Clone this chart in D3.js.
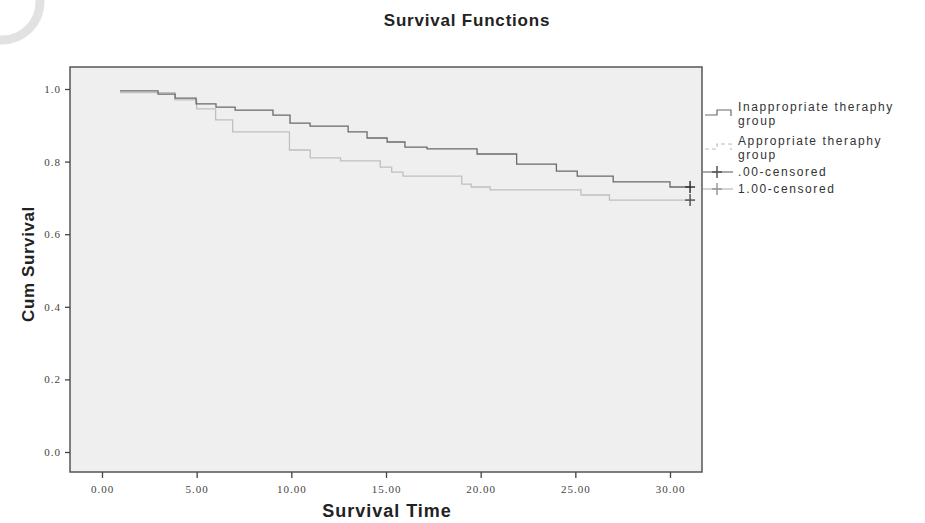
<!DOCTYPE html>
<html>
<head>
<meta charset="utf-8">
<script src="https://cdn.jsdelivr.net/npm/d3@7"></script>
<style>
  body { margin: 0; background: #fff; }
  svg { display: block; }
</style>
</head>
<body>
<div id="chart"></div>
<script>
// Kaplan-Meier steps
const inapTimes = [0.95, 2.96, 3.86, 4.97, 6.02, 7.03, 9.03, 9.93, 10.99, 13.0, 14.0, 15.06, 16.0, 17.17, 19.81, 21.9, 24.0, 25.1, 27.0, 30.0, 31.06]
const inapSurv  = [0.995, 0.986, 0.975, 0.959, 0.950, 0.942, 0.928, 0.906, 0.898, 0.882, 0.865, 0.854, 0.840, 0.835, 0.821, 0.793, 0.774, 0.760, 0.744, 0.730, 0.730]

const apTimes = [0.95, 3.86, 5.0, 6.0, 6.9, 9.9, 11.0, 12.6, 14.7, 15.3, 15.9, 19.0, 19.5, 20.5, 25.3, 26.8, 31.06]
const apSurv  = [0.99, 0.97, 0.945, 0.915, 0.882, 0.832, 0.810, 0.802, 0.785, 0.771, 0.760, 0.738, 0.730, 0.722, 0.708, 0.694, 0.694]

// censored cases (time, survival)
const censInap = [[31.06, 0.730]]
const censAp = [[31.06, 0.694]]

const xTicks = [0, 5, 10, 15, 20, 25, 30]
const yTicks = [0, 0.2, 0.4, 0.6, 0.8, 1.0]
const legendLabels = [["Inappropriate theraphy", "group"], ["Appropriate theraphy", "group"], [".00-censored"], ["1.00-censored"]]

const W = 925, H = 523
const frame = {left: 70, top: 67, right: 702, bottom: 472}
const darkCol = "#6a6a6a", lightCol = "#c0c0c0"

const svg = d3.select("#chart").append("svg")
  .attr("width", W).attr("height", H)

// faint watermark arc in the corner
svg.append("circle")
  .attr("cx", 2).attr("cy", 2).attr("r", 38)
  .attr("fill", "none").attr("stroke", "#e2e2e2").attr("stroke-width", 9)

// scales: 0 -> x 102, 30 -> x 670 ; 0 -> y 452, 1 -> y 89
const x = d3.scaleLinear().domain([0, 30]).range([102, 670])
const y = d3.scaleLinear().domain([0, 1]).range([452, 89])

// plot background + frame
svg.append("rect")
  .attr("x", frame.left).attr("y", frame.top)
  .attr("width", frame.right - frame.left).attr("height", frame.bottom - frame.top)
  .attr("fill", "#efefef").attr("stroke", "#555").attr("stroke-width", 1.5)

// axes
const yAxis = svg.append("g")
  .attr("transform", "translate(" + frame.left + ",0)")
  .call(d3.axisLeft(y).tickValues(yTicks).tickSize(5).tickPadding(4).tickFormat(d3.format(".1f")))
yAxis.select(".domain").remove()

const xAxis = svg.append("g")
  .attr("transform", "translate(0," + frame.bottom + ")")
  .call(d3.axisBottom(x).tickValues(xTicks).tickSize(6).tickPadding(7).tickFormat(d3.format(".2f")))
xAxis.select(".domain").remove()

svg.selectAll(".tick line").attr("stroke", "#444").attr("stroke-width", 1.3)
svg.selectAll(".tick text")
  .attr("fill", "#444")
  .style("font", "11px 'Liberation Serif', serif")
  .style("letter-spacing", "1px")

// titles
svg.append("text")
  .attr("x", 467).attr("y", 26)
  .attr("text-anchor", "middle")
  .style("font", "bold 17px 'Liberation Sans', Arial, sans-serif")
  .style("letter-spacing", "0.8px")
  .attr("fill", "#222")
  .text("Survival Functions")

svg.append("text")
  .attr("x", 387).attr("y", 517)
  .attr("text-anchor", "middle")
  .style("font", "bold 18px 'Liberation Sans', Arial, sans-serif")
  .style("letter-spacing", "1px")
  .attr("fill", "#222")
  .text("Survival Time")

svg.append("text")
  .attr("transform", "translate(34,264) rotate(-90)")
  .attr("text-anchor", "middle")
  .style("font", "bold 17px 'Liberation Sans Narrow', 'Arial Narrow', sans-serif")
  .style("letter-spacing", "0.6px")
  .attr("fill", "#222")
  .text("Cum Survival")

// curves
const line = d3.line()
  .x(d => x(d[0])).y(d => y(d[1]))
  .curve(d3.curveStepAfter)

svg.append("path")
  .datum(d3.zip(apTimes, apSurv))
  .attr("d", line)
  .attr("fill", "none").attr("stroke", lightCol).attr("stroke-width", 1.3)

svg.append("path")
  .datum(d3.zip(inapTimes, inapSurv))
  .attr("d", line)
  .attr("fill", "none").attr("stroke", darkCol).attr("stroke-width", 1.3)

function cross (g, cx, cy, col) {
  g.append("line").attr("x1", cx - 5).attr("x2", cx + 5).attr("y1", cy).attr("y2", cy)
    .attr("stroke", col).attr("stroke-width", 1.5)
  g.append("line").attr("x1", cx).attr("x2", cx).attr("y1", cy - 6).attr("y2", cy + 6)
    .attr("stroke", col).attr("stroke-width", 1.5)
}
censInap.forEach(d => cross(svg, x(d[0]), y(d[1]), "#333"))
censAp.forEach(d => cross(svg, x(d[0]), y(d[1]), "#555"))

// legend
const leg = svg.append("g")
const lx = 738
const rowY = [111, 145, 176, 193]
leg.selectAll("text.lab")
  .data(legendLabels)
  .join("text")
  .attr("class", "lab")
  .attr("x", lx)
  .attr("y", (d, i) => rowY[i])
  .style("font", "12px 'Liberation Sans', Arial, sans-serif")
  .style("letter-spacing", "1.6px")
  .attr("fill", "#333")
  .each(function (d) {
    d3.select(this).selectAll("tspan").data(d).join("tspan")
      .attr("x", lx).attr("dy", (t, j) => j ? 14 : 0).text(t => t)
  })

// step symbols
const stepSym = (yy) => "M705," + (yy + 5) + "H717V" + (yy) + "H731V" + (yy + 6)
leg.append("path").attr("d", stepSym(110)).attr("fill", "none").attr("stroke", darkCol).attr("stroke-width", 1.2)
leg.append("path").attr("d", stepSym(144)).attr("fill", "none").attr("stroke", lightCol).attr("stroke-width", 1.2)
  .attr("stroke-dasharray", "4,3")

// censored symbols
leg.append("line").attr("x1", 703).attr("x2", 733).attr("y1", 172).attr("y2", 172).attr("stroke", "#555")
cross(leg, 717, 172, "#555")
leg.append("line").attr("x1", 703).attr("x2", 733).attr("y1", 189).attr("y2", 189).attr("stroke", "#aaa")
cross(leg, 717, 189, "#999")
</script>
</body>
</html>
